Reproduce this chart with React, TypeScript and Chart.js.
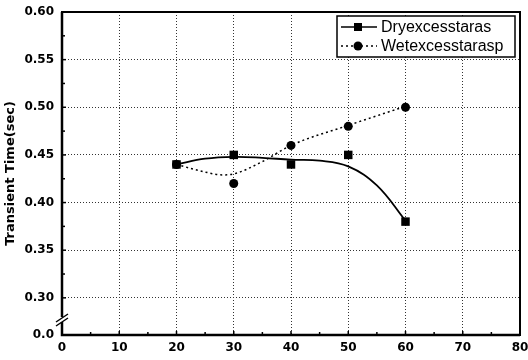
import React, { useEffect, useRef } from "react";
import { Chart, registerables } from "chart.js";

Chart.register(...registerables);

// ---- data ----
const xValues = [20, 30, 40, 50, 60];
const dryValues = [0.44, 0.45, 0.44, 0.45, 0.38];
const wetValues = [0.44, 0.42, 0.46, 0.48, 0.5];
// smoothed fit curves
const dryFitX = [20, 25, 30, 35, 40, 45, 50, 55, 60];
const dryFitY = [0.44, 0.446, 0.448, 0.447, 0.445, 0.444, 0.438, 0.418, 0.381];
const wetFitX = [20, 25, 28, 30, 35, 40, 50, 60];
const wetFitY = [0.44, 0.432, 0.429, 0.43, 0.443, 0.46, 0.481, 0.501];

const xTickValues = [0, 10, 20, 30, 40, 50, 60, 70, 80];
const yTickValues = [0.3, 0.35, 0.4, 0.45, 0.5, 0.55, 0.6];
const yBreakValue = 0.261; // bottom of broken axis, labelled "0.0"
const yBreakLabel = "0.0";
const seriesNames = ["Dryexcesstaras", "Wetexcesstarasp"];
const yTitle = "Transient Time(sec)";

const tickFont = { family: "DejaVu Sans", weight: "bold" as const, size: 12 };

const framePlugin = {
  id: "frame",
  afterDraw(chart: any) {
    const { ctx, chartArea: a, scales } = chart;
    const xs = scales.x;
    const ys = scales.y;
    ctx.save();
    ctx.strokeStyle = "#000";
    ctx.lineCap = "butt";
    // inner tick marks
    ctx.lineWidth = 1.5;
    for (let v = 5; v < 80; v += 5) {
      const px = xs.getPixelForValue(v);
      const len = v % 10 === 0 ? 4 : 3;
      ctx.beginPath();
      ctx.moveTo(px, a.bottom);
      ctx.lineTo(px, a.bottom - len);
      ctx.stroke();
    }
    for (let v = 0.3; v < 0.6; v += 0.025) {
      const py = ys.getPixelForValue(v);
      const major = Math.abs((v * 1000) % 50) < 1 || Math.abs((v * 1000) % 50 - 50) < 1;
      ctx.beginPath();
      ctx.moveTo(a.left, py);
      ctx.lineTo(a.left + (major ? 4 : 3), py);
      ctx.stroke();
    }
    // box
    ctx.lineWidth = 2;
    ctx.strokeRect(a.left, a.top, a.right - a.left, a.bottom - a.top);
    ctx.lineWidth = 2.5;
    ctx.beginPath();
    ctx.moveTo(a.left, a.top);
    ctx.lineTo(a.left, a.bottom);
    ctx.lineTo(a.right, a.bottom);
    ctx.stroke();
    // axis break
    const by = a.bottom - 15;
    ctx.fillStyle = "#fff";
    ctx.fillRect(a.left - 3, by - 3, 6, 5);
    ctx.lineWidth = 1.5;
    ctx.beginPath();
    ctx.moveTo(a.left - 6, by + 2);
    ctx.lineTo(a.left + 6, by - 6);
    ctx.moveTo(a.left - 6, by + 6);
    ctx.lineTo(a.left + 6, by - 2);
    ctx.stroke();

    // legend
    const lx = 337, ly = 16, lw = 178, lh = 41;
    ctx.fillStyle = "#fff";
    ctx.fillRect(lx, ly, lw, lh);
    ctx.lineWidth = 1.5;
    ctx.strokeRect(lx, ly, lw, lh);
    const rows = [ly + 11, ly + 30];
    ctx.lineWidth = 1.5;
    ctx.setLineDash([]);
    ctx.beginPath();
    ctx.moveTo(341, rows[0]);
    ctx.lineTo(377, rows[0]);
    ctx.stroke();
    ctx.fillStyle = "#000";
    ctx.fillRect(358 - 4, rows[0] - 4, 8, 8);
    ctx.setLineDash([2, 3]);
    ctx.beginPath();
    ctx.moveTo(341, rows[1]);
    ctx.lineTo(377, rows[1]);
    ctx.stroke();
    ctx.setLineDash([]);
    ctx.beginPath();
    ctx.arc(358, rows[1], 4.5, 0, Math.PI * 2);
    ctx.fill();
    ctx.font = "16px 'Liberation Sans'";
    ctx.textBaseline = "middle";
    ctx.textAlign = "left";
    ctx.fillText(seriesNames[0], 381, rows[0] + 1);
    ctx.fillText(seriesNames[1], 381, rows[1] + 1);
    ctx.restore();
  },
};

export default function App() {
  const ref = useRef<HTMLCanvasElement>(null);
  useEffect(() => {
    if (!ref.current) return;
    const chart = new Chart(ref.current, {
      type: "line",
      data: {
        datasets: [
          {
            label: seriesNames[0] + " fit",
            data: dryFitX.map((x, i) => ({ x, y: dryFitY[i] })),
            borderColor: "#000",
            borderWidth: 1.8,
            pointRadius: 0,
            tension: 0.4,
            fill: false,
          },
          {
            label: seriesNames[1] + " fit",
            data: wetFitX.map((x, i) => ({ x, y: wetFitY[i] })),
            borderColor: "#000",
            borderWidth: 1.5,
            borderDash: [2, 3],
            pointRadius: 0,
            cubicInterpolationMode: "monotone",
            fill: false,
          },
          {
            label: seriesNames[0],
            data: xValues.map((x, i) => ({ x, y: dryValues[i] })),
            showLine: false,
            pointStyle: "rect",
            pointRadius: 6,
            backgroundColor: "#000",
            borderColor: "#000",
            borderWidth: 0,
          },
          {
            label: seriesNames[1],
            data: xValues.map((x, i) => ({ x, y: wetValues[i] })),
            showLine: false,
            pointStyle: "circle",
            pointRadius: 4.5,
            backgroundColor: "#000",
            borderColor: "#000",
            borderWidth: 0,
          },
        ],
      },
      options: {
        animation: false,
        responsive: true,
        maintainAspectRatio: false,
        layout: { padding: { top: 12, right: 8, left: 0, bottom: 0 } },
        plugins: { legend: { display: false }, tooltip: { enabled: false } },
        scales: {
          x: {
            type: "linear",
            min: 0,
            max: 80,
            afterBuildTicks: (s: any) => {
              s.ticks = xTickValues.map((v) => ({ value: v }));
            },
            afterFit: (s: any) => {
              s.height = 25;
              s.paddingLeft = 0;
              s.paddingRight = 0;
            },
            ticks: {
              font: tickFont,
              color: "#000",
              padding: 6,
              maxRotation: 0,
              autoSkip: false,
              callback: (v: any) => String(v),
            },
            grid: {
              drawTicks: false,
              color: (c: any) =>
                c.tick && (c.tick.value === 0 || c.tick.value === 80) ? "rgba(0,0,0,0)" : "#333",
              lineWidth: 1,
            },
            border: { display: false, dash: [1, 2] },
          },
          y: {
            type: "linear",
            min: yBreakValue,
            max: 0.6,
            afterBuildTicks: (s: any) => {
              s.ticks = [yBreakValue, ...yTickValues].map((v) => ({ value: v }));
            },
            afterFit: (s: any) => {
              s.width = 62;
              s.paddingTop = 0;
              s.paddingBottom = 0;
            },
            ticks: {
              font: tickFont,
              color: "#000",
              padding: 8,
              autoSkip: false,
              callback: (v: any) => (v < 0.28 ? yBreakLabel : Number(v).toFixed(2)),
            },
            title: {
              display: true,
              text: yTitle,
              color: "#000",
              font: { family: "DejaVu Sans", weight: "bold", size: 13 },
              padding: { top: 3, bottom: 0 },
            },
            grid: {
              drawTicks: false,
              color: (c: any) =>
                c.tick && (c.tick.value < 0.28 || c.tick.value > 0.59) ? "rgba(0,0,0,0)" : "#333",
              lineWidth: 1,
            },
            border: { display: false, dash: [1, 2] },
          },
        },
      },
      plugins: [framePlugin],
    });
    return () => chart.destroy();
  }, []);
  return (
    <div style={{ position: "fixed", left: 0, top: 0, width: 528, height: 360, background: "#fff" }}>
      <canvas ref={ref} />
    </div>
  );
}
